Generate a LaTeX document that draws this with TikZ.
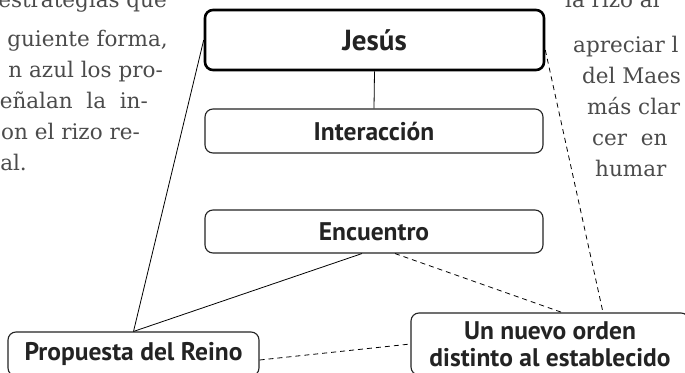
\documentclass[tikz,border=0pt]{standalone}
\usepackage{fontspec}
\setmainfont{DejaVu Serif}
\newfontfamily\boxfont{PT Sans}
\definecolor{BoxClr}{RGB}{35,35,35}
\definecolor{TextClr}{RGB}{75,75,75}

\tikzset{
  nodebox/.style={draw=BoxClr,line width=1.1pt,rounded corners=8pt,text=BoxClr,align=center,inner sep=0pt,
    font=\boxfont\bfseries\fontsize{25.5}{27}\selectfont},
  mainbox/.style={nodebox,draw=black,line width=2.6pt,font=\boxfont\bfseries\fontsize{29}{30}\selectfont},
  bodyline/.style={text=TextClr,inner sep=0pt,font=\fontsize{21.5}{31}\selectfont},
  link/.style={line width=0.8pt,black},
  dashlink/.style={link,dash pattern=on 5pt off 4pt}
}

\begin{document}
\begin{tikzpicture}[x=1pt,y=-1pt]
\useasboundingbox (0,0) rectangle (685,372);
\clip (0,0) rectangle (685,372);

\node[bodyline,anchor=base east] (l0) at (167,8) {estrategias que};
\node[bodyline,anchor=base east] (l1) at (168,46) {guiente forma,};
\node[bodyline,anchor=base east] (l2) at (163,77) {n azul los pro-};
\node[bodyline,anchor=base east] (l3) at (148,108) {eñalan\ \ la\ \ in-};
\node[bodyline,anchor=base east] (l4) at (140,139) {on el rizo re-};
\node[bodyline,anchor=base east] (l5) at (27,170) {al.};

\node[bodyline,anchor=base west] (r0) at (565,7) {la rizo al};
\node[bodyline,anchor=base west] (r1) at (573,52) {apreciar l};
\node[bodyline,anchor=base west] (r2) at (582,83) {del Maes};
\node[bodyline,anchor=base west] (r3) at (587,114) {más clar};
\node[bodyline,anchor=base west] (r4) at (592,145) {cer\ \ en};
\node[bodyline,anchor=base west] (r5) at (595,176) {humar};

\node[mainbox,minimum width=339pt,minimum height=60pt] (jesus) at (374.5,40) {Jesús};
\node[nodebox,minimum width=338pt,minimum height=44pt] (inter) at (374,131) {Interacción};
\node[nodebox,minimum width=338pt,minimum height=43pt] (encuentro) at (374,231.5) {Encuentro};
\node[nodebox,minimum width=251pt,minimum height=44pt] (reino) at (133.5,354) {Propuesta del Reino};
\node[nodebox,minimum width=278pt,minimum height=62pt] (orden) at (550,344) {Un nuevo orden\\distinto al establecido};

\draw[link] (jesus.south) -- (inter.north);
\draw[link] (jesus.west) -- (reino.north);
\draw[link] ([xshift=-12pt]encuentro.south) -- (reino.north);
\draw[dashlink] ([xshift=21pt]encuentro.south) -- ([xshift=12pt]orden.north);
\draw[dashlink] ([yshift=-10pt]jesus.east) -- ([xshift=53pt]orden.north);
\draw[dashlink] ([yshift=-6pt]reino.east) -- (orden.west);

\end{tikzpicture}
\end{document}
